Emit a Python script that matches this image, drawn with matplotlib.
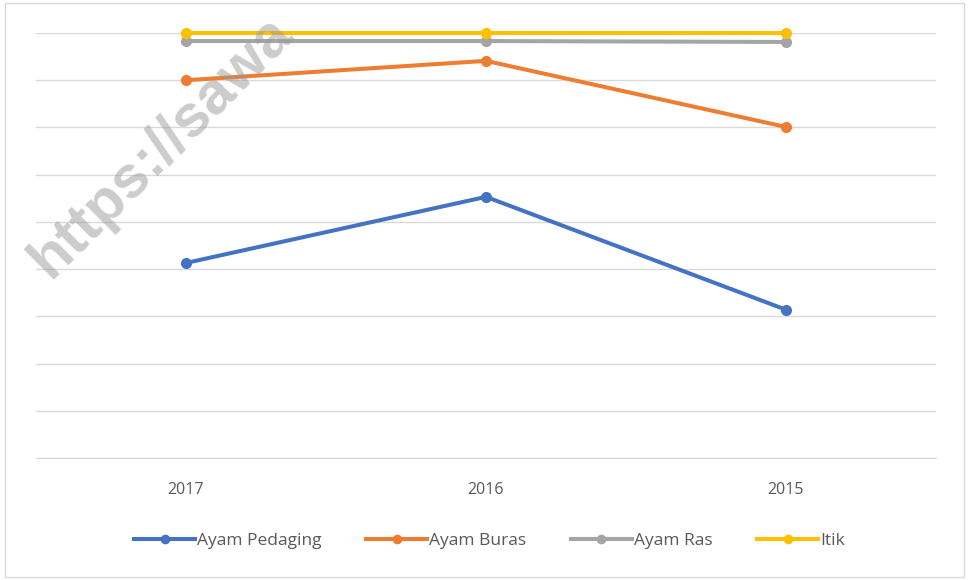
import matplotlib.pyplot as plt
from matplotlib.patches import Rectangle

# data (y axis has no labels, arbitrary units)
years = ['2017', '2016', '2015']
ayam_pedaging = [41.3, 55.3, 31.4]
ayam_buras = [80.0, 84.1, 70.1]
ayam_ras = [88.3, 88.3, 88.1]
itik = [90.0, 90.0, 90.0]

series = [
    ('Ayam Pedaging', ayam_pedaging, '#4472C4'),
    ('Ayam Buras', ayam_buras, '#ED7D31'),
    ('Ayam Ras', ayam_ras, '#A5A5A5'),
    ('Itik', itik, '#FFC000'),
]

plt.rcParams['font.family'] = ['Open Sans', 'DejaVu Sans']

fig = plt.figure(figsize=(9.69, 5.8), dpi=100)
fig.patches.append(Rectangle((5 / 969, 3 / 580), 959 / 969, 574 / 580,
                             transform=fig.transFigure, fill=False,
                             edgecolor='#D9D9D9', linewidth=1))

ax = fig.add_axes([36 / 969, 1 - 458 / 580, 900 / 969, 425 / 580])
x = range(len(years))
for name, vals, color in series:
    ax.plot(x, vals, color=color, linewidth=2.9, marker='o', markersize=7,
            label=name, clip_on=False, zorder=3)

ax.set_xlim(-0.5, len(years) - 0.5)
ax.set_ylim(0, 90)
ax.set_yticks(range(0, 91, 10))
ax.set_yticklabels([])
ax.tick_params(axis='y', length=0)
ax.grid(axis='y', color='#D9D9D9', linewidth=1)
ax.set_axisbelow(True)
ax.set_xticks(list(x))
ax.set_xticklabels(years, fontsize=11.5, color='#595959')
ax.tick_params(axis='x', length=0, pad=17)
for side in ['top', 'right', 'left']:
    ax.spines[side].set_visible(False)
ax.spines['bottom'].set_color('#D9D9D9')

fig.legend(loc='center', bbox_to_anchor=(0.505, 1 - 541 / 580), ncol=4,
           frameon=False, fontsize=12.5, labelcolor='#595959',
           handlelength=3.5, handletextpad=0.1, columnspacing=2.6,
           markerscale=0.85)

# watermark
fig.text(50 / 969, 1 - 280 / 580, 'https://sawa', rotation=45,
         rotation_mode='anchor', ha='left', va='baseline', fontsize=43,
         fontweight='bold', color='#9a9a9a', alpha=0.5,
         family=['Liberation Sans', 'DejaVu Sans'])

fig.savefig('out.png', dpi=100)
